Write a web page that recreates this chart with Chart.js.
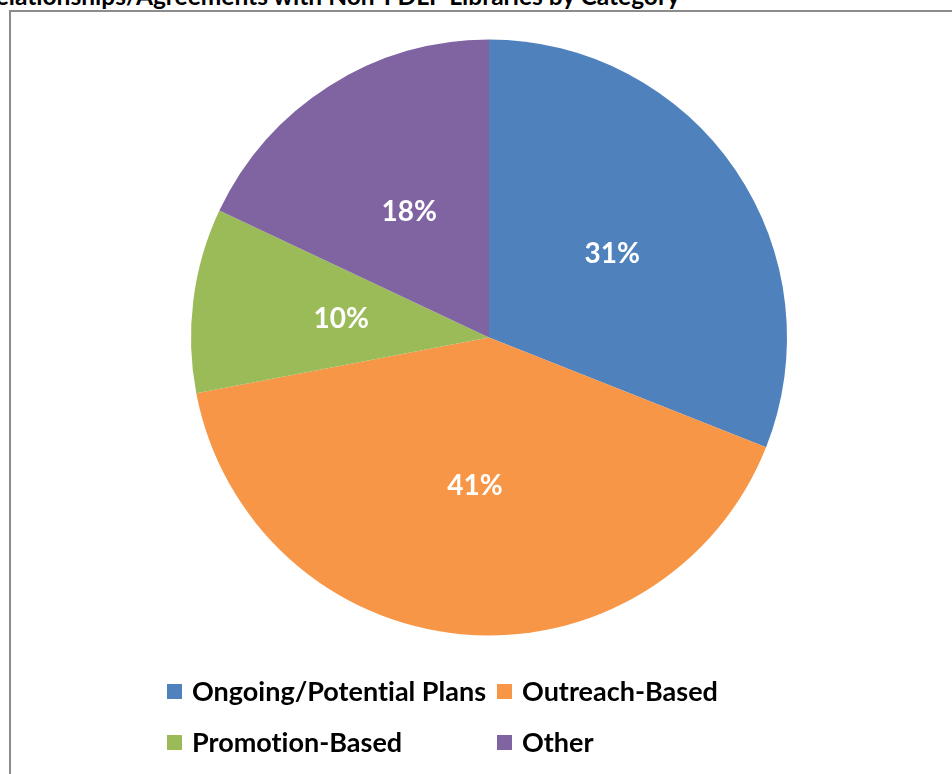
<!DOCTYPE html>
<html>
<head>
<meta charset="utf-8">
<script src="https://cdn.jsdelivr.net/npm/chart.js@4.4.1/dist/chart.umd.min.js"></script>
<style>
  html, body { margin: 0; padding: 0; background: #fff; }
  body { width: 952px; height: 774px; position: relative; overflow: hidden; font-family: Lato, "Open Sans", sans-serif; font-variant-ligatures: none; }
  #frame { position: absolute; left: 9px; top: 10px; width: 960px; height: 800px; border-left: 2px solid #8c8c8c; border-top: 2px solid #8c8c8c; }
  #title { position: absolute; right: 272px; top: -17px; white-space: nowrap; font-weight: bold; font-size: 24.5px; line-height: 25px; color: #000; }
  #chart { position: absolute; left: 0; top: 0; }
  .legend-item { position: absolute; font-weight: bold; font-size: 27px; line-height: 27px; color: #000; white-space: nowrap; }
  .legend-item span.box { position: absolute; left: 0; top: 4px; width: 15px; height: 15px; }
  .legend-item span.txt { position: absolute; left: 25px; top: -3px; }
</style>
</head>
<body>
<div id="frame"></div>
<div id="title">Relationships/Agreements with Non-FDLP Libraries by Category</div>
<canvas id="chart" width="952" height="774"></canvas>
<div id="legend"></div>
<script>
const categories = ['Ongoing/Potential Plans', 'Outreach-Based', 'Promotion-Based', 'Other'];
const percentages = [31, 41, 10, 18];
const sliceColors = ['#4F81BD', '#F79646', '#9BBB59', '#8064A2'];

// legend grid: two columns, two rows
const legendCols = [167, 497];
const legendRows = [680, 731];

const legend = document.getElementById('legend');
categories.forEach((name, i) => {
  const item = document.createElement('div');
  item.className = 'legend-item';
  item.style.left = legendCols[i % 2] + 'px';
  item.style.top = legendRows[Math.floor(i / 2)] + 'px';
  item.innerHTML = '<span class="box"></span><span class="txt"></span>';
  item.querySelector('.box').style.background = sliceColors[i];
  item.querySelector('.txt').textContent = name;
  legend.appendChild(item);
});

// white percentage labels in the middle of each slice
const sliceLabels = {
  id: 'sliceLabels',
  afterDatasetsDraw(chart) {
    const ctx = chart.ctx;
    const meta = chart.getDatasetMeta(0);
    ctx.save();
    ctx.fillStyle = '#fff';
    ctx.font = 'bold 28px Lato, "Open Sans", sans-serif';
    ctx.textAlign = 'center';
    ctx.textBaseline = 'middle';
    meta.data.forEach((arc, i) => {
      const pos = arc.tooltipPosition();
      ctx.fillText(chart.data.datasets[0].data[i] + '%', pos.x, pos.y);
    });
    ctx.restore();
  }
};

new Chart(document.getElementById('chart').getContext('2d'), {
  type: 'pie',
  data: {
    labels: categories,
    datasets: [{
      data: percentages,
      backgroundColor: sliceColors,
      borderWidth: 0
    }]
  },
  options: {
    responsive: false,
    animation: false,
    layout: {
      padding: { left: 191, right: 165, top: 39, bottom: 138 }
    },
    plugins: {
      legend: { display: false },
      tooltip: { enabled: false },
      title: { display: false }
    }
  },
  plugins: [sliceLabels]
});
</script>
</body>
</html>
